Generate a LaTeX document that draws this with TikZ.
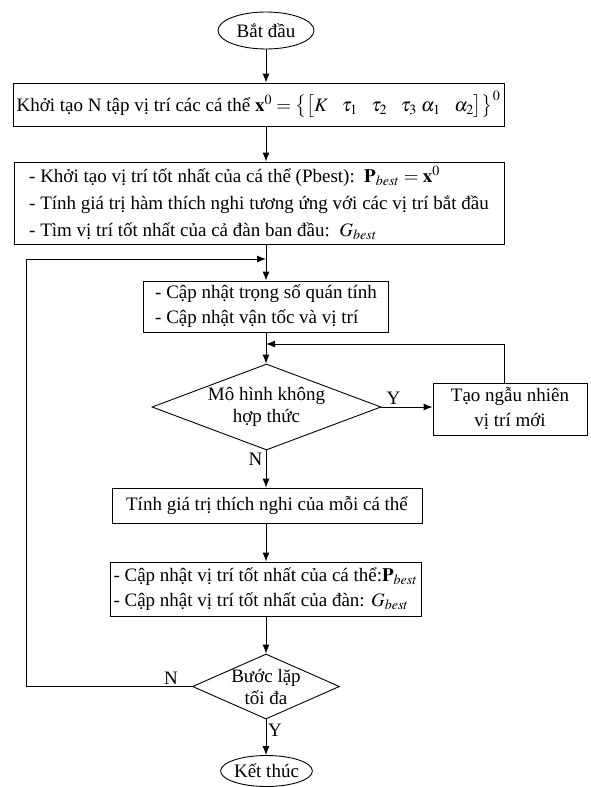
\documentclass[tikz,border=0pt]{standalone}
\usepackage{mathptmx}
\usepackage[no-math]{fontspec}
\setmainfont{Liberation Serif}
\usetikzlibrary{arrows.meta}
\usetikzlibrary{shapes.geometric}
\tikzset{>={Latex[length=9pt,width=7pt]}}
\tikzstyle{procbox}=[draw=black,line width=0.9pt,rectangle,inner sep=0pt,align=center]
\tikzstyle{listbox}=[draw=black,line width=0.9pt,rectangle,inner sep=0pt,align=left]
\tikzstyle{termnode}=[draw=black,line width=0.9pt,ellipse,inner sep=0pt]
\tikzstyle{decnode}=[draw=black,line width=0.9pt,diamond,inner sep=0pt]
\tikzstyle{dectext}=[align=center,inner sep=0pt]
\tikzstyle{flowline}=[draw=black,line width=0.9pt,->]

\begin{document}
\begin{tikzpicture}[x=1pt,y=-1pt,every node/.style={font=\fontsize{19}{25}\selectfont}]
  \useasboundingbox (0,0) rectangle (590,787);

  % terminals
  \node[termnode,minimum width=96pt,minimum height=37pt] (start) at (266,30.5) {Bắt đầu};
  \node[termnode,minimum width=78pt,minimum height=31pt] (stop) at (266.5,771) {Kết thúc};

  % process boxes
  \node[procbox,minimum width=491pt,minimum height=43pt] (init) at (258.5,104.5)
    {Khởi tạo N tập vị trí các cá thể\ $\mathbf{x}^0=\bigl\{\bigl[K\enskip\;\tau_1\enskip\;\tau_2\enskip\;\tau_3\;\alpha_1\enskip\;\alpha_2\bigr]\bigr\}^0$};
  \node[listbox,minimum width=490pt,minimum height=82pt] (best) at (259,203)
    {- Khởi tạo vị trí tốt nhất của cá thể (Pbest):\ \ $\mathbf{P}_{best}=\mathbf{x}^0$\\[2pt]
     - Tính giá trị hàm thích nghi tương ứng với các vị trí bắt đầu\\[2pt]
     - Tìm vị trí tốt nhất của cả đàn ban đầu:\ \ $G_{best}$};
  \node[listbox,minimum width=245pt,minimum height=51pt] (update) at (266,306.5)
    {- Cập nhật trọng số quán tính\\- Cập nhật vận tốc và vị trí};
  \node[decnode,minimum width=229pt,minimum height=86pt] (valid) at (266.5,407) {};
  \node[dectext] (validtext) at (valid.center) {Mô hình không\\[-3pt]hợp thức};
  \node[procbox,minimum width=154pt,minimum height=52pt] (random) at (510,409)
    {Tạo ngẫu nhiên\\vị trí mới};
  \node[procbox,minimum width=310pt,minimum height=35pt] (fitness) at (267,505.5)
    {Tính giá trị thích nghi của mỗi cá thể};
  \node[listbox,minimum width=311pt,minimum height=54pt] (record) at (265.5,589)
    {- Cập nhật vị trí tốt nhất của cá thể:$\mathbf{P}_{best}$\\- Cập nhật vị trí tốt nhất của đàn: $G_{best}$};
  \node[decnode,minimum width=147pt,minimum height=65pt] (maxit) at (266,686.5) {};
  \node[dectext] (maxittext) at (maxit.center) {Bước lặp\\[-3pt]tối đa};

  % junctions
  \coordinate (join1) at (266,259);
  \coordinate (join2) at (266,344);
  \coordinate (loopleft) at (26,259);

  % connectors
  \draw[flowline] (start.south) -- (start.south |- init.north);
  \draw[flowline] (init.south -| start.south) -- (best.north -| start.south);
  \draw[flowline] (best.south -| start.south) -- (update.north -| start.south);
  \draw[flowline] (update.south -| start.south) -- (valid.north -| start.south);
  \draw[flowline] (valid.east) -- (valid.east -| random.west);
  \draw[flowline] ([xshift=-6pt]random.north) |- (join2);
  \draw[flowline] (valid.south -| start.south) -- (fitness.north -| start.south);
  \draw[flowline] (fitness.south -| start.south) -- (record.north -| start.south);
  \draw[flowline] (record.south -| start.south) -- (maxit.north -| start.south);
  \draw[flowline] (maxit.south -| start.south) -- (stop.north -| start.south);
  \draw[flowline] (maxit.west) -| (loopleft) -- (join1);

  % branch labels
  \node[above right,inner sep=2pt,xshift=3pt] (ylabel1) at (valid.east) {Y};
  \node[below left,inner sep=2pt,xshift=-2pt] (nlabel1) at (valid.south) {N};
  \node[above left,inner sep=2pt,xshift=-12pt] (nlabel2) at (maxit.west) {N};
  \node[below right,inner sep=2pt,yshift=-2pt] (ylabel2) at (maxit.south) {Y};
\end{tikzpicture}
\end{document}
